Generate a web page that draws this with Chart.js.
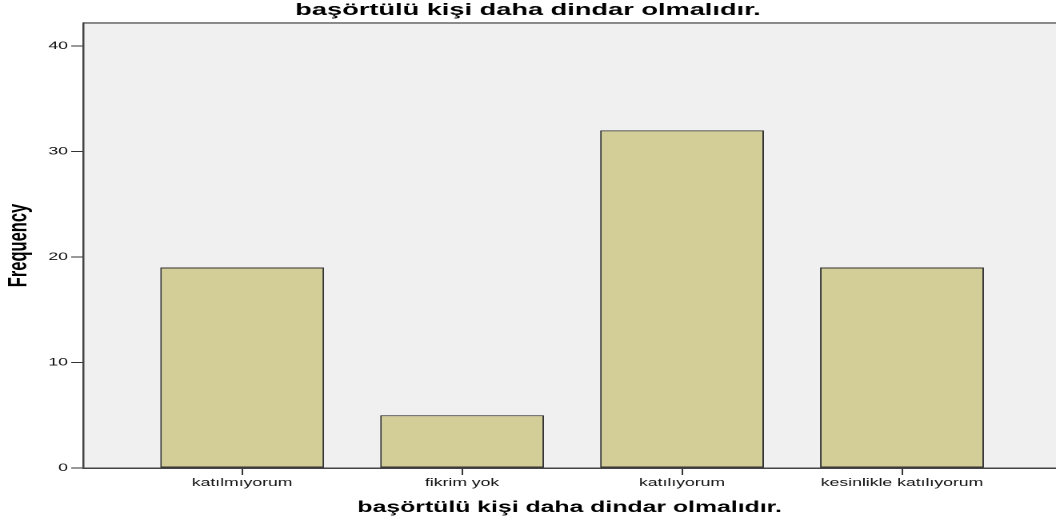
<!DOCTYPE html>
<html><head><meta charset="utf-8">
<script src="https://cdn.jsdelivr.net/npm/chart.js@4.4.0/dist/chart.umd.min.js"></script>
<style>
html,body{margin:0;padding:0;background:#fff;overflow:hidden}
#wrap{position:absolute;left:0;top:0;width:660px;height:526px;transform:scaleX(1.6);transform-origin:0 0}
</style></head>
<body><div id="wrap"><canvas id="c"></canvas></div>
<script>
const categories = ['katılmıyorum', 'fikrim yok', 'katılıyorum', 'kesinlikle katılıyorum'];
const frequencies = [19, 5, 32, 19];
const yTickValues = [0, 10, 20, 30, 40];
const chartTitle = 'başörtülü kişi daha dindar olmalıdır.';
const xAxisTitle = 'başörtülü kişi daha dindar olmalıdır.';
const yAxisTitle = 'Frequency';

const FONT = "'Liberation Sans', Arial, sans-serif";

const plotBg = {
  id: 'plotBg',
  beforeDraw(chart) {
    const {ctx, chartArea: a} = chart;
    ctx.save();
    ctx.fillStyle = '#f0f0f0';
    ctx.fillRect(a.left, a.top, a.right - a.left, a.bottom - a.top);
    ctx.strokeStyle = '#8a8a8a';
    ctx.lineWidth = 2;
    ctx.beginPath();
    ctx.moveTo(a.left, a.top);
    ctx.lineTo(a.right, a.top);
    ctx.stroke();
    ctx.restore();
  }
};

new Chart(document.getElementById('c'), {
  type: 'bar',
  data: {
    datasets: [{
      label: yAxisTitle,
      data: categories.map((c, i) => ({x: i, y: frequencies[i]})),
      backgroundColor: '#d3ce98',
      borderColor: '#333',
      borderWidth: 1,
      borderSkipped: false,
      categoryPercentage: 1,
      barPercentage: 0.745
    }]
  },
  options: {
    responsive: true,
    maintainAspectRatio: false,
    animation: false,
    devicePixelRatio: 2,
    layout: {padding: 0},
    plugins: {
      legend: {display: false},
      tooltip: {enabled: false},
      title: {
        display: true,
        text: chartTitle,
        color: '#000',
        font: {family: FONT, size: 17, weight: 'bold', lineHeight: 1},
        padding: {top: 2, bottom: 4}
      }
    },
    scales: {
      x: {
        type: 'linear',
        min: -0.7227,
        max: 3.70,
        offset: false,
        afterBuildTicks: s => { s.ticks = categories.map((c, i) => ({value: i})); },
        afterFit: s => { s.height = 58; },
        ticks: {
          callback: v => categories[v],
          font: {family: FONT, size: 11},
          color: '#111',
          padding: 1.5,
          maxRotation: 0,
          autoSkip: false
        },
        grid: {display: true, offset: false, drawOnChartArea: false, tickLength: 7, color: '#333'},
        border: {display: true, color: '#444', width: 1.5},
        title: {
          display: true,
          text: xAxisTitle,
          color: '#000',
          font: {family: FONT, size: 15.5, weight: 'bold'},
          padding: {top: 0, bottom: 9}
        }
      },
      y: {
        type: 'linear',
        min: 0,
        max: 42.18,
        afterBuildTicks: s => { s.ticks = yTickValues.map(v => ({value: v})); },
        afterFit: s => { s.width = 52; },
        ticks: {
          font: {family: FONT, size: 11},
          color: '#111',
          padding: 2
        },
        grid: {display: true, drawOnChartArea: false, tickLength: 7.5, color: '#333'},
        border: {display: true, color: '#444', width: 1.25},
        title: {
          display: true,
          text: yAxisTitle,
          color: '#000',
          font: {family: FONT, size: 16.5, weight: 'bold'},
          padding: {top: 2, bottom: 0}
        }
      }
    }
  },
  plugins: [plotBg]
});
</script>
</body></html>
